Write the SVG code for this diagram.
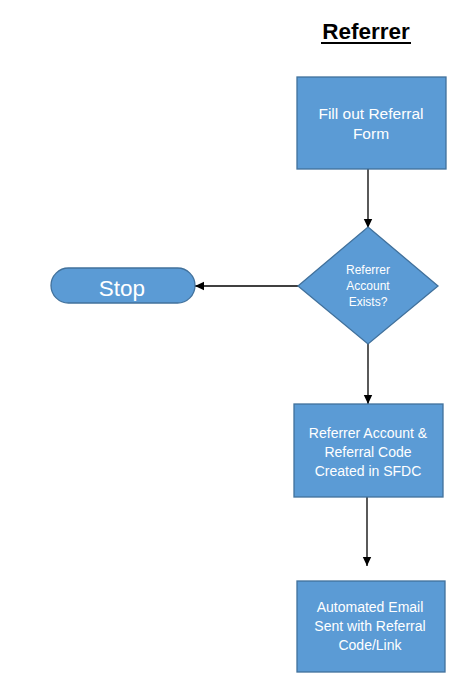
<svg xmlns="http://www.w3.org/2000/svg" width="452" height="684" viewBox="0 0 452 684">
<defs>
<marker id="arr" markerWidth="10" markerHeight="10" refX="9" refY="5" orient="auto" markerUnits="userSpaceOnUse">
<path d="M0,0.8 L9,5 L0,9.2 Z" fill="#000"/>
</marker>
<style>
.shape{fill:#5B9BD5;stroke:#41719C;stroke-width:1.3}
.t{font-family:"Liberation Sans",Arial,sans-serif;fill:#fff;text-anchor:middle}
.c{stroke:#000;stroke-width:1.3;fill:none;marker-end:url(#arr)}
</style>
</defs>
<rect width="452" height="684" fill="#fff"/>
<g id="title">
<text x="366" y="39" font-family="Liberation Sans, Arial, sans-serif" font-size="22.5" font-weight="bold" text-anchor="middle" fill="#000">Referrer</text>
<line x1="321" y1="43" x2="411" y2="43" stroke="#000" stroke-width="2"/>
</g>
<g id="connectors">
<line class="c" x1="368" y1="169" x2="368" y2="228"/>
<line class="c" x1="298" y1="286" x2="195" y2="286"/>
<line class="c" x1="368" y1="344" x2="368" y2="404"/>
<line class="c" x1="367" y1="497" x2="367" y2="566"/>
</g>
<g id="fill-form">
<rect class="shape" x="297" y="77" width="149" height="92"/>
<text class="t" font-size="15.5"><tspan x="371" y="119">Fill out Referral</tspan><tspan x="371" y="139">Form</tspan></text>
</g>
<g id="decision">
<polygon class="shape" points="368,227 438,286 368,344 298,286"/>
<text class="t" font-size="12"><tspan x="368" y="274">Referrer</tspan><tspan x="368" y="290">Account</tspan><tspan x="368" y="306">Exists?</tspan></text>
</g>
<g id="stop">
<rect class="shape" x="51" y="268" width="144" height="35" rx="17.5" ry="17.5"/>
<text class="t" x="122" y="296" font-size="22.5">Stop</text>
</g>
<g id="create-account">
<rect class="shape" x="294" y="404" width="149" height="93"/>
<text class="t" font-size="14"><tspan x="368" y="438">Referrer Account &amp;</tspan><tspan x="368" y="457">Referral Code</tspan><tspan x="368" y="476">Created in SFDC</tspan></text>
</g>
<g id="email">
<rect class="shape" x="297" y="581" width="148" height="91"/>
<text class="t" font-size="14"><tspan x="370" y="612">Automated Email</tspan><tspan x="370" y="631">Sent with Referral</tspan><tspan x="370" y="650">Code/Link</tspan></text>
</g>
</svg>
